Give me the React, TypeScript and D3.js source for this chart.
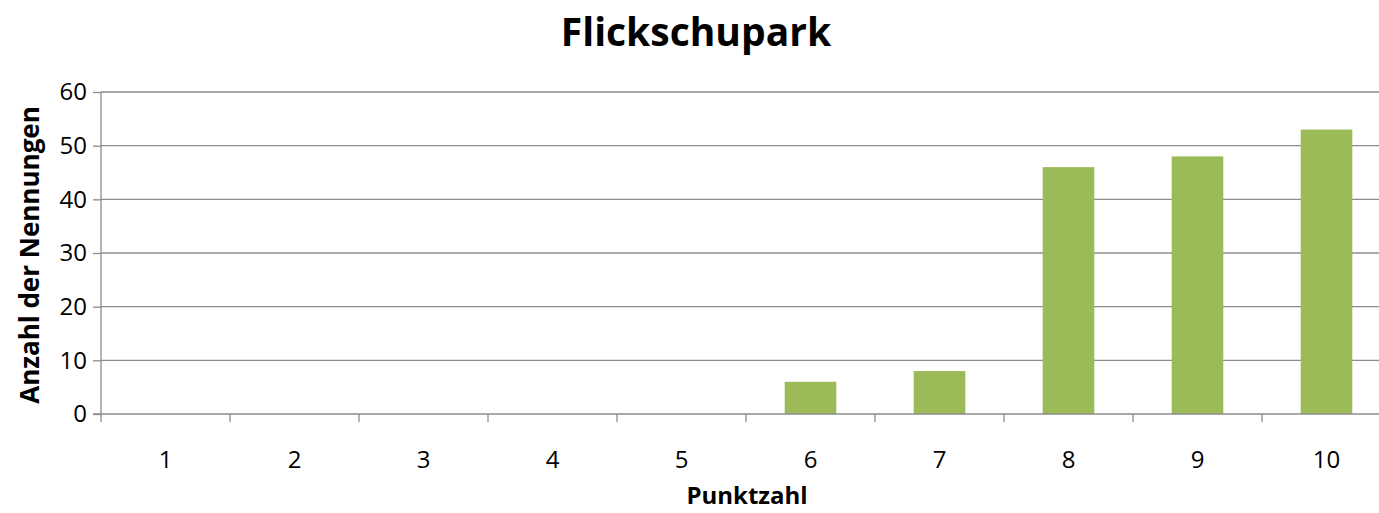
import React, { useEffect, useRef } from 'react';
import * as d3 from 'd3';

const title = 'Flickschupark';
const categories = ['1', '2', '3', '4', '5', '6', '7', '8', '9', '10'];
const counts = [0, 0, 0, 0, 0, 6, 8, 46, 48, 53];
const yTicks = [0, 10, 20, 30, 40, 50, 60];
const xLabel = 'Punktzahl';
const yLabel = 'Anzahl der Nennungen';

const App = () => {
  const ref = useRef<SVGSVGElement>(null);

  useEffect(() => {
    const width = 1379;
    const height = 513;
    const marginTop = 92;
    const plotRight = 1391; // plot area runs past the picture's right edge
    const marginBottom = 99;
    const marginLeft = 101;
    const font = "'Open Sans', sans-serif";
    const grey = '#8c8c8c';

    const x = d3.scaleBand()
      .domain(categories)
      .range([marginLeft, plotRight])
      .paddingInner(0.6)
      .paddingOuter(0.3);
    const xEdges = d3.scaleLinear()
      .domain([0, categories.length])
      .range([marginLeft, plotRight]);
    const y = d3.scaleLinear().domain([0, 60]).range([height - marginBottom, marginTop]);

    const svg = d3.select(ref.current);
    svg.selectAll('*').remove();
    svg.attr('width', width).attr('height', height).attr('viewBox', [0, 0, width, height]);

    // gridlines
    svg.append('g')
      .selectAll('line')
      .data(yTicks.filter(d => d > 0))
      .join('line')
      .attr('x1', marginLeft)
      .attr('x2', plotRight)
      .attr('y1', d => y(d))
      .attr('y2', d => y(d))
      .attr('stroke', grey)
      .attr('stroke-width', 1.3);

    // bars
    svg.append('g')
      .attr('fill', '#9bbb59')
      .selectAll('rect')
      .data(counts)
      .join('rect')
      .attr('x', (d, i) => x(categories[i])!)
      .attr('width', x.bandwidth())
      .attr('y', d => y(d))
      .attr('height', d => y(0) - y(d));

    // y axis
    svg.append('g')
      .attr('transform', `translate(${marginLeft},0)`)
      .call(d3.axisLeft(y).tickValues(yTicks).tickSize(8).tickPadding(6))
      .call(g => g.select('.domain').attr('stroke', grey).attr('stroke-width', 1.3).attr('d', `M0,${y(60)}V${y(0) + 8}`))
      .call(g => g.selectAll('.tick line').attr('stroke', grey).attr('stroke-width', 1.3))
      .call(g => g.selectAll('.tick text').attr('font-family', font).attr('font-size', 24).attr('fill', '#000'));

    // x axis
    const xg = svg.append('g').attr('transform', `translate(0,${y(0)})`);
    xg.append('line')
      .attr('x1', marginLeft - 8)
      .attr('x2', plotRight)
      .attr('stroke', grey)
      .attr('stroke-width', 1.3);
    xg.selectAll('line.tick')
      .data(d3.range(1, categories.length + 1))
      .join('line')
      .attr('class', 'tick')
      .attr('x1', d => xEdges(d))
      .attr('x2', d => xEdges(d))
      .attr('y1', 0)
      .attr('y2', 8)
      .attr('stroke', grey)
      .attr('stroke-width', 1.3);
    xg.selectAll('text')
      .data(categories)
      .join('text')
      .attr('x', d => x(d)! + x.bandwidth() / 2)
      .attr('y', 54)
      .attr('text-anchor', 'middle')
      .attr('font-family', font)
      .attr('font-size', 24)
      .text(d => d);

    svg.append('text')
      .attr('x', 696)
      .attr('y', 46)
      .attr('text-anchor', 'middle')
      .attr('font-family', font)
      .attr('font-weight', 'bold')
      .attr('font-size', 39)
      .text(title);

    svg.append('text')
      .attr('x', 747)
      .attr('y', 504)
      .attr('text-anchor', 'middle')
      .attr('font-family', font)
      .attr('font-weight', 'bold')
      .attr('font-size', 24)
      .text(xLabel);

    svg.append('text')
      .attr('transform', `translate(39,${(marginTop + y(0)) / 2 + 2}) rotate(-90)`)
      .attr('text-anchor', 'middle')
      .attr('font-family', font)
      .attr('font-weight', 'bold')
      .attr('font-size', 26)
      .text(yLabel);
  }, []);

  return <svg ref={ref} style={{ position: 'absolute', left: 0, top: 0 }} />;
};

export default App;
